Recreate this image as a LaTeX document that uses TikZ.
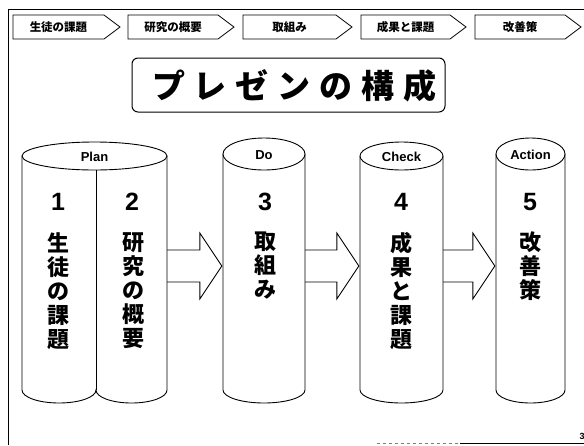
\documentclass[tikz,border=0pt]{standalone}
\usepackage{fontspec}
\setmainfont{Liberation Sans}
\newfontfamily\cjk{Noto Sans CJK JP}
\usetikzlibrary{calc}
\newcommand\cylbody[5]{% xl, xr, ytop, yside, ry
  \filldraw[cylline] ({#1},{#3}) -- ({#1},{#4})
    .. controls ({#1},{#4+0.55*#5}) and ({(#1+#2)/2-0.55*(#2-#1)/2},{#4+#5}) .. ({(#1+#2)/2},{#4+#5})
    .. controls ({(#1+#2)/2+0.55*(#2-#1)/2},{#4+#5}) and ({#2},{#4+0.55*#5}) .. ({#2},{#4})
    -- ({#2},{#3});
}
\tikzset{
  cylline/.style={draw=black, fill=white, line width=0.9pt},
  tabline/.style={draw=black, fill=white, line width=0.8pt},
  tabtext/.style={font=\cjk\bfseries\fontsize{11.5}{12}\selectfont, inner sep=0pt},
  phase/.style={font=\bfseries\fontsize{13}{13}\selectfont, inner sep=0pt},
  numtext/.style={font=\bfseries\fontsize{25}{25}\selectfont, inner sep=0pt},
  vtext/.style={font=\cjk\bfseries\fontsize{22}{24}\selectfont, align=center, inner sep=0pt},
  blockarrow/.style={draw=black, fill=white, line width=0.9pt, line join=miter},
  anchorbox/.style={inner sep=0pt, minimum height=2pt}
}
\begin{document}
\begin{tikzpicture}[x=1pt,y=-1pt]
\useasboundingbox (0,0) rectangle (584,445);
\fill[white] (0,0) rectangle (584,445);
% slide frame
\draw[line width=1pt] (8,445) -- (8,9) -- (584,9);
\draw[line width=0.6pt, gray, dashed] (377,443) -- (460,443);
\draw[line width=1pt] (460,443) -- (584,443);
\node[font=\bfseries\fontsize{9}{9}\selectfont, inner sep=0pt] (pg) at (582,436) {3};
% tabs
\foreach \L/\T/\txt/\nm in {13/120/生徒の課題/t1, 128/234/研究の概要/t2, 243/352/取組み/t3, 361/466/成果と課題/t4, 475/581/改善策/t5}{
  \draw[tabline] (\L,15) -- (\T-16,15) -- (\T,27) -- (\T-16,39) -- (\L,39) -- cycle;
  \node[tabtext] (\nm) at ({(\L+\T-16)/2},27) {\txt};
}
% title
\draw[line width=1pt, rounded corners=6pt] (132,58) rectangle (445,112);
\node[font=\cjk\bfseries\fontsize{33}{33}\selectfont, inner sep=0pt] (title) at (294.5,86)
  {プ\hspace{9pt}レ\hspace{9pt}ゼ\hspace{9pt}ン\hspace{9pt}の\hspace{9pt}構\hspace{9pt}成};
% anchor boxes for the cylinders (for arrows)
\node[anchorbox, minimum width=145pt] (plan) at (94.5,266) {};
\node[anchorbox, minimum width=82pt] (do) at (264,266) {};
\node[anchorbox, minimum width=83pt] (check) at (401.5,266) {};
\node[anchorbox, minimum width=69pt] (act) at (530.5,266) {};
% block arrows
\foreach \a/\b in {plan/do, do/check, check/act}{
  \filldraw[blockarrow] let \p1=(\a.east), \p2=(\b.west) in
    ({\x1-8pt},{\y1+16pt}) -- ({\x2-23pt},{\y1+16pt}) -- ({\x2-23pt},{\y1+33pt})
    -- ({\x2-1pt},{\y1}) -- ({\x2-23pt},{\y1-33pt}) -- ({\x2-23pt},{\y1-16pt})
    -- ({\x1-8pt},{\y1-16pt});
}
% Plan cylinder (double)
\filldraw[cylline] (22,156) -- (22,390)
  .. controls (22,397.2) and (38.6,403) .. (59,403)
  .. controls (79.4,403) and (96,397.2) .. (96,390)
  .. controls (96,397.2) and (111.9,403) .. (131.5,403)
  .. controls (151.1,403) and (167,397.2) .. (167,390)
  -- (167,156);
\draw[line width=0.9pt] (96,170) -- (96,390);
\filldraw[cylline] (94.5,156) ellipse [x radius=72.5, y radius=14];
% Do
\cylbody{223}{305}{154}{390}{13}
\filldraw[cylline] (264,154) ellipse [x radius=41, y radius=16];
% Check
\cylbody{360}{443}{156}{390}{13}
\filldraw[cylline] (401.5,156) ellipse [x radius=41.5, y radius=14];
% Action
\cylbody{496}{565}{154}{390}{13}
\filldraw[cylline] (530.5,154) ellipse [x radius=34.5, y radius=16];
% phase labels
\node[phase] (lplan) at (94.5,157) {Plan};
\node[phase] (ldo) at (264,155) {Do};
\node[phase] (lcheck) at (401.5,157) {Check};
\node[phase] (lact) at (530.5,155) {Action};
% numbers
\node[numtext] (n1) at (58,202) {1};
\node[numtext] (n2) at (132,202) {2};
\node[numtext] (n3) at (265,202) {3};
\node[numtext] (n4) at (401,202) {4};
\node[numtext] (n5) at (530,202) {5};
% vertical texts
\node[vtext, anchor=north] (v1) at (58,232) {生\\徒\\の\\課\\題};
\node[vtext, anchor=north] (v2) at (133,232) {研\\究\\の\\概\\要};
\node[vtext, anchor=north] (v3) at (265,232) {取\\組\\み};
\node[vtext, anchor=north] (v4) at (401,232) {成\\果\\と\\課\\題};
\node[vtext, anchor=north] (v5) at (530,232) {改\\善\\策};
\end{tikzpicture}
\end{document}
